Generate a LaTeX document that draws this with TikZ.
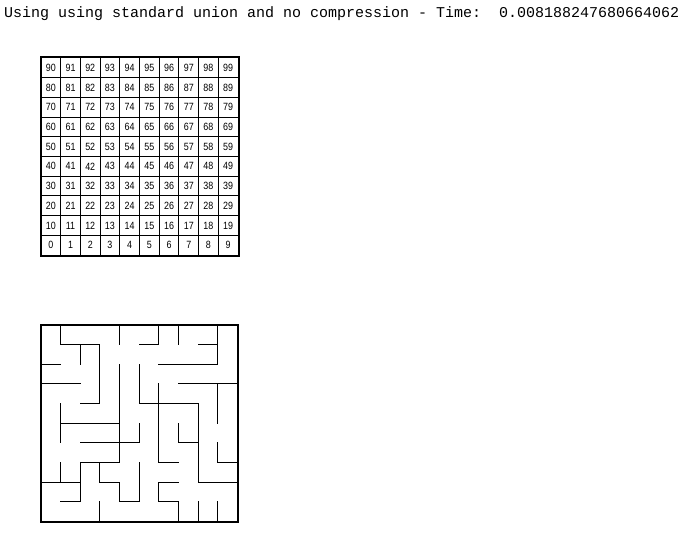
\documentclass[tikz,border=0pt]{standalone}
\usepackage{fontspec}
\setmainfont{Liberation Sans}
\newfontfamily\monofont{Liberation Mono}
\newfontfamily\numfont[FakeStretch=0.85]{Liberation Sans}
\tikzset{
  titletext/.style={anchor=base west, inner sep=0pt, font=\monofont\fontsize{15}{18}\selectfont},
  cellbox/.style={draw, line width=1pt, minimum size=19.7pt, inner sep=0pt, font=\numfont\fontsize{10.5}{12}\selectfont},
  wall/.style={line width=1pt, line cap=rect},
  border/.style={line width=2pt}
}
\begin{document}
\begin{tikzpicture}[x=1pt,y=-1pt]
\useasboundingbox[fill=white] (0,0) rectangle (696,535);
\node[titletext] (title) at (4,17.5) {Using using standard union and no compression - Time:\ \ 0.008188247680664062};
% numbered grid
\foreach \i in {0,...,9} {
  \foreach \j in {0,...,9} {
    \pgfmathtruncatemacro\n{(9-\i)*10+\j}
    \node[cellbox] (cell\n) at ({41+(\j+0.5)*19.7},{58+(\i+0.5)*19.7}) {\n};
  }
}
\draw[border] (cell90.north west) rectangle (cell9.south east);
% maze
\coordinate (mzA) at (41,325);
\coordinate (mzB) at (237.5,521.5);
\draw[border] (mzA) rectangle (mzB);
\foreach \c/\a/\b in {1/0/1,1/4/6,1/7/8,
                      2/1/2,2/7/9,
                      3/1/4,3/7/8,3/9/10,
                      4/0/1,4/2/7,4/8/9,
                      5/2/4,5/5/6,5/7/9,
                      6/0/1,6/3/7,6/8/9,
                      7/0/1,7/5/6,7/9/10,
                      8/4/8,8/9/10,
                      9/0/2,9/3/5,9/6/7,9/9/10} {
  \draw[wall] ({41+\c*19.65},{325+\a*19.65}) -- ({41+\c*19.65},{325+\b*19.65});
}
\foreach \r/\a/\b in {1/1/3,1/5/6,1/8/9,
                      2/0/1,2/6/9,
                      3/0/2,3/7/10,
                      4/2/3,4/5/8,
                      5/1/4,
                      6/2/5,6/7/8,
                      7/2/4,7/6/7,7/9/10,
                      8/0/2,8/3/4,8/6/7,8/8/10,
                      9/1/2,9/4/5,9/6/7} {
  \draw[wall] ({41+\a*19.65},{325+\r*19.65}) -- ({41+\b*19.65},{325+\r*19.65});
}
\end{tikzpicture}
\end{document}
